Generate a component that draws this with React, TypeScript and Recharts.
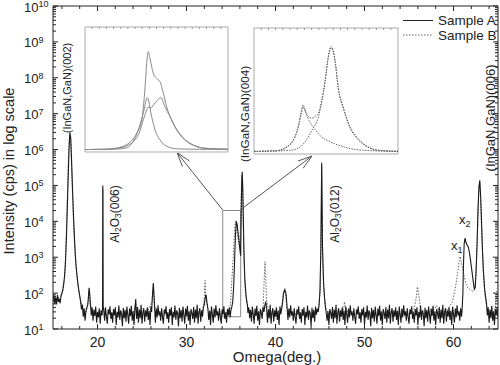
import React from 'react';
import { LineChart, Line, XAxis, YAxis, ReferenceArea } from 'recharts';

const FONT = '"Liberation Sans", Arial, Helvetica, sans-serif';

// ---- main scan: [omega (deg.), intensity (cps)] ----
const sampleA: [number, number][] = [
  [15.0, 62], [15.1, 88], [15.2, 50], [15.3, 76], [15.4, 48], [15.5, 90], [15.6, 57], [15.7, 70], [15.8, 52], [15.9, 82],
  [16.0, 98], [16.1, 125], [16.2, 180], [16.3, 300], [16.4, 700], [16.5, 3000], [16.6, 2e4], [16.7, 1.5e5], [16.8, 1e6], [16.9, 3e6],
  [17.0, 2e6], [17.1, 4e5], [17.2, 7e4], [17.3, 1.5e4], [17.4, 4000], [17.5, 1200], [17.6, 550], [17.7, 300], [17.8, 180], [17.9, 120],
  [18.0, 85], [18.1, 58], [18.2, 35], [18.3, 48], [18.4, 22], [18.5, 38], [18.6, 17], [18.7, 31], [18.8, 40], [18.9, 46],
  [19.0, 90], [19.05, 140], [19.1, 115], [19.2, 55], [19.3, 24], [19.4, 40], [19.5, 17], [19.6, 35], [19.7, 23], [19.8, 42],
  [19.9, 15], [20.0, 30], [20.1, 21], [20.2, 38], [20.3, 14], [20.4, 33], [20.5, 24], [20.57, 38], [20.6, 1e5], [20.63, 42],
  [20.7, 34], [20.8, 17], [20.9, 40], [21.0, 22], [21.1, 14], [21.2, 35], [21.3, 26], [21.4, 43], [21.5, 19], [21.6, 29],
  [21.7, 15], [21.8, 36], [21.9, 24], [22.0, 40], [22.1, 13], [22.2, 30], [22.3, 21], [22.4, 45], [22.5, 18], [22.6, 33],
  [22.7, 27], [22.8, 12], [22.9, 39], [23.0, 20], [23.1, 34], [23.2, 16], [23.3, 42], [23.4, 25], [23.5, 14], [23.6, 37],
  [23.7, 23], [23.8, 44], [23.9, 17], [24.0, 31], [24.1, 13], [24.2, 36], [24.3, 68], [24.35, 28], [24.4, 19], [24.5, 41],
  [24.6, 15], [24.7, 35], [24.8, 20], [24.9, 47], [25.0, 14], [25.1, 29], [25.2, 38], [25.3, 16], [25.4, 33], [25.5, 22],
  [25.6, 40], [25.7, 18], [25.8, 32], [25.9, 13], [26.0, 42], [26.08, 30], [26.15, 70], [26.27, 190], [26.35, 90], [26.42, 40],
  [26.5, 15], [26.6, 37], [26.7, 21], [26.8, 46], [26.9, 24], [27.0, 31], [27.1, 17], [27.2, 38], [27.3, 22], [27.4, 14],
  [27.5, 35], [27.6, 26], [27.7, 43], [27.8, 19], [27.9, 29], [28.0, 15], [28.1, 36], [28.2, 24], [28.3, 40], [28.4, 13],
  [28.5, 30], [28.6, 21], [28.7, 45], [28.8, 18], [28.9, 33], [29.0, 27], [29.1, 12], [29.2, 39], [29.3, 20], [29.4, 34],
  [29.5, 16], [29.6, 42], [29.7, 25], [29.8, 14], [29.9, 37], [30.0, 23], [30.1, 44], [30.2, 17], [30.3, 31], [30.4, 13],
  [30.5, 36], [30.6, 28], [30.7, 19], [30.8, 41], [30.9, 15], [31.0, 35], [31.1, 20], [31.2, 47], [31.3, 14], [31.4, 29],
  [31.5, 38], [31.6, 16], [31.7, 33], [31.8, 22], [31.9, 40], [32.0, 48], [32.1, 75], [32.2, 90], [32.3, 55], [32.4, 38],
  [32.5, 18], [32.6, 32], [32.7, 13], [32.8, 42], [32.9, 26], [33.0, 15], [33.1, 37], [33.2, 21], [33.3, 46], [33.4, 24],
  [33.5, 31], [33.6, 17], [33.7, 38], [33.8, 22], [33.9, 14], [34.0, 35], [34.1, 26], [34.2, 43], [34.3, 19], [34.4, 29],
  [34.5, 15], [34.6, 36], [34.7, 24], [34.8, 40], [34.9, 21], [35.0, 34], [35.1, 42], [35.2, 60], [35.3, 150], [35.4, 800],
  [35.5, 4000], [35.6, 1e4], [35.7, 8000], [35.8, 4500], [35.9, 2800], [36.0, 1600], [36.08, 1100], [36.15, 2e4], [36.2, 1.2e5], [36.26, 2.4e5],
  [36.32, 9e4], [36.38, 1.5e4], [36.45, 1500], [36.55, 250], [36.7, 80], [36.85, 45], [36.9, 28], [37.0, 39], [37.1, 20], [37.2, 34],
  [37.3, 16], [37.4, 42], [37.5, 25], [37.6, 14], [37.7, 37], [37.8, 23], [37.9, 44], [38.0, 17], [38.1, 31], [38.2, 13],
  [38.3, 36], [38.4, 28], [38.5, 19], [38.6, 41], [38.7, 30], [38.8, 44], [38.9, 58], [39.0, 38], [39.1, 15], [39.2, 35],
  [39.3, 20], [39.4, 47], [39.5, 14], [39.6, 29], [39.7, 38], [39.8, 16], [39.9, 33], [40.0, 22], [40.1, 40], [40.2, 18],
  [40.3, 32], [40.4, 13], [40.5, 42], [40.6, 26], [40.7, 38], [40.8, 55], [40.9, 100], [41.05, 125], [41.2, 90], [41.3, 40],
  [41.4, 18], [41.5, 37], [41.6, 21], [41.7, 46], [41.8, 24], [41.9, 31], [42.0, 17], [42.1, 38], [42.2, 22], [42.3, 14],
  [42.4, 35], [42.5, 26], [42.6, 43], [42.7, 19], [42.8, 29], [42.9, 15], [43.0, 36], [43.1, 24], [43.2, 40], [43.3, 13],
  [43.4, 30], [43.5, 21], [43.6, 45], [43.7, 18], [43.8, 33], [43.9, 27], [44.0, 12], [44.1, 39], [44.2, 20], [44.3, 34],
  [44.4, 16], [44.5, 42], [44.6, 25], [44.7, 37], [44.8, 30], [44.9, 48], [45.0, 120], [45.1, 2000], [45.19, 4.3e5], [45.28, 2000],
  [45.4, 200], [45.5, 80], [45.6, 45], [45.7, 28], [45.8, 17], [45.9, 31], [46.0, 13], [46.1, 36], [46.2, 28], [46.3, 19],
  [46.4, 41], [46.5, 15], [46.6, 35], [46.7, 20], [46.8, 47], [46.9, 14], [47.0, 29], [47.1, 38], [47.2, 16], [47.3, 33],
  [47.4, 22], [47.5, 40], [47.6, 18], [47.7, 32], [47.8, 13], [47.9, 42], [48.0, 26], [48.1, 15], [48.2, 37], [48.3, 21],
  [48.4, 46], [48.5, 24], [48.6, 31], [48.7, 17], [48.8, 38], [48.9, 22], [49.0, 14], [49.1, 35], [49.2, 26], [49.3, 43],
  [49.4, 19], [49.5, 29], [49.6, 15], [49.7, 36], [49.8, 24], [49.9, 40], [50.0, 13], [50.1, 30], [50.2, 21], [50.3, 45],
  [50.4, 18], [50.5, 33], [50.6, 27], [50.7, 12], [50.8, 39], [50.9, 20], [51.0, 34], [51.1, 16], [51.2, 42], [51.3, 25],
  [51.4, 14], [51.5, 37], [51.6, 23], [51.7, 44], [51.8, 17], [51.9, 31], [52.0, 13], [52.1, 36], [52.2, 28], [52.3, 19],
  [52.4, 41], [52.5, 15], [52.6, 35], [52.7, 20], [52.8, 47], [52.9, 14], [53.0, 29], [53.1, 38], [53.2, 16], [53.3, 33],
  [53.4, 22], [53.5, 40], [53.6, 18], [53.7, 32], [53.8, 13], [53.9, 42], [54.0, 26], [54.1, 15], [54.2, 37], [54.3, 21],
  [54.4, 46], [54.5, 24], [54.6, 31], [54.7, 17], [54.8, 38], [54.9, 22], [55.0, 14], [55.1, 35], [55.2, 26], [55.3, 43],
  [55.4, 19], [55.5, 29], [55.6, 15], [55.7, 36], [55.8, 24], [55.9, 40], [56.0, 13], [56.1, 30], [56.2, 21], [56.3, 45],
  [56.4, 18], [56.5, 33], [56.6, 27], [56.7, 12], [56.8, 39], [56.9, 20], [57.0, 34], [57.1, 16], [57.2, 42], [57.3, 25],
  [57.4, 14], [57.5, 37], [57.6, 23], [57.7, 44], [57.8, 17], [57.9, 31], [58.0, 13], [58.1, 36], [58.2, 28], [58.3, 19],
  [58.4, 41], [58.5, 15], [58.6, 35], [58.7, 20], [58.8, 47], [58.9, 14], [59.0, 29], [59.1, 38], [59.2, 16], [59.3, 33],
  [59.4, 22], [59.5, 40], [59.6, 18], [59.7, 32], [59.8, 13], [59.9, 42], [60.0, 26], [60.1, 15], [60.2, 37], [60.3, 21],
  [60.4, 46], [60.5, 24], [60.6, 31], [60.7, 17], [60.8, 38], [60.9, 22], [60.95, 30], [61.05, 90], [61.12, 600], [61.2, 2400],
  [61.3, 3400], [61.4, 2600], [61.55, 2100], [61.67, 1900], [61.8, 1300], [61.92, 800], [62.05, 450], [62.2, 230], [62.35, 125], [62.45, 150],
  [62.55, 500], [62.65, 2500], [62.75, 2e4], [62.85, 8e4], [62.95, 1.4e5], [63.05, 5e4], [63.17, 7000], [63.26, 1500], [63.35, 450], [63.5, 130],
  [63.6, 80], [63.7, 55], [63.8, 24], [63.9, 40], [64.0, 15], [64.1, 35], [64.2, 20], [64.3, 44], [64.4, 17], [64.5, 31],
  [64.6, 13], [64.7, 36], [64.8, 24], [64.9, 40], [65.0, 21],
];

const sampleB: [number, number][] = [
  [15.0, 58], [15.5, 72], [15.9, 85], [16.1, 110], [16.3, 260], [16.4, 900], [16.5, 5000], [16.6, 4e4], [16.7, 3e5], [16.8, 1.5e6],
  [16.88, 2.5e6], [17.0, 1.3e6], [17.1, 3e5], [17.2, 5e4], [17.3, 1e4], [17.4, 3000], [17.6, 500], [17.8, 170], [18.0, 80], [18.3, 40],
  [18.6, 25], [18.9, 45], [19.0, 70], [19.05, 110], [19.15, 50], [19.5, 25], [20.0, 28], [20.5, 25], [20.57, 35], [20.6, 8e4],
  [20.63, 40], [21.0, 25], [22.0, 28], [23.0, 22], [24.0, 27], [24.3, 50], [24.6, 24], [25.5, 26], [26.15, 60], [26.27, 150],
  [26.4, 45], [27.0, 25], [28.0, 23], [29.0, 27], [30.0, 22], [31.0, 26], [31.8, 30], [32.0, 70], [32.08, 225], [32.16, 80],
  [32.4, 35], [33.0, 24], [34.0, 26], [34.8, 30], [34.9, 40], [35.0, 80], [35.1, 250], [35.2, 600], [35.3, 1800], [35.4, 6000],
  [35.5, 1e4], [35.6, 8000], [35.7, 5000], [35.8, 3200], [35.9, 2200], [36.0, 3000], [36.1, 1.5e4], [36.18, 1e5], [36.24, 2e5], [36.3, 8e4],
  [36.38, 8000], [36.5, 500], [36.6, 120], [36.8, 50], [37.2, 28], [38.0, 25], [38.6, 35], [38.72, 200], [38.82, 760], [38.9, 300],
  [39.0, 60], [39.3, 28], [40.0, 25], [40.7, 40], [40.85, 90], [41.0, 120], [41.15, 80], [41.3, 35], [42.0, 26], [43.0, 24],
  [44.0, 27], [44.8, 32], [45.0, 100], [45.1, 1500], [45.19, 3.5e5], [45.28, 1500], [45.4, 150], [45.6, 40], [46.0, 25], [47.0, 24],
  [47.6, 30], [47.75, 57], [47.85, 35], [48.5, 25], [49.5, 27], [50.5, 24], [51.5, 26], [52.5, 25], [53.5, 28], [54.5, 24],
  [55.5, 30], [55.8, 70], [55.95, 150], [56.1, 90], [56.3, 35], [57.0, 28], [57.8, 35], [58.1, 45], [58.4, 30], [59.0, 30],
  [59.5, 40], [59.9, 60], [60.2, 130], [60.45, 350], [60.65, 800], [60.73, 1050], [60.85, 800], [61.0, 500], [61.2, 300], [61.4, 180],
  [61.6, 140], [61.8, 130], [62.0, 120], [62.2, 110], [62.4, 130], [62.55, 400], [62.7, 5000], [62.85, 1e5], [62.95, 1.3e5], [63.05, 4e4],
  [63.2, 3000], [63.35, 400], [63.5, 110], [63.7, 45], [64.0, 28], [64.5, 30], [64.7, 40], [64.85, 100], [65.0, 200],
];

// axis ticks
const xLabelTicks = [20, 30, 40, 50, 60];
const xTicks = [16, 18, 20, 22, 24, 26, 28, 30, 32, 34, 36, 38, 40, 42, 44, 46, 48, 50, 52, 54, 56, 58, 60, 62, 64];
const yDecades = [1e1, 1e2, 1e3, 1e4, 1e5, 1e6, 1e7, 1e8, 1e9, 1e10];
const yMinorSteps = [2, 3, 4, 5, 6, 7, 8, 9];
const omegaDomain: [number, number] = [15, 65];
const cpsDomain: [number, number] = [10, 1e10];

// zoomed region (omega range, intensity range)
const zoomOmega: [number, number] = [34.07, 36.09];
const zoomCps: [number, number] = [22, 2e4];

// ---- insets: [position across the zoomed window (%), intensity (a.u.)] ----
const insetATotal: [number, number][] = [
  [0, 0], [14, 0.2], [21, 1], [29.2, 4], [36.2, 13.5], [39.7, 24], [42, 51], [43.1, 70], [44.3, 80], [45.5, 74],
  [47.8, 62], [50.1, 58], [52.4, 55.5], [54.8, 46], [57.1, 35], [60.6, 24], [64.1, 16], [68.7, 9], [75.7, 3.5], [83.9, 1], [100, 0.3],
];
const insetAPeak1: [number, number][] = [
  [0, 0], [21, 0.3], [29.2, 1.4], [33.8, 6.8], [37.3, 16], [40.8, 30], [43.6, 42.4], [46.6, 27], [49, 16], [52.4, 8],
  [57.1, 2.7], [64.1, 0.6], [80, 0.2], [100, 0.1],
];
const insetAPeak2: [number, number][] = [
  [0, 0], [14, 0.2], [21, 0.8], [29.2, 3], [37.3, 12], [42, 28.5], [44.3, 34.7], [45.9, 33.9], [49, 38], [53.1, 42.4],
  [55.9, 35], [59.4, 27], [64.1, 16.5], [68.7, 9.5], [75.7, 3.8], [83.9, 1.1], [100, 0.3],
];
const insetBTotal: [number, number][] = [
  [0, 0.4], [3, 0.1], [6, 0.6], [9, 0.2], [12, 0.8], [15, 0.3], [18, 1.2], [20.1, 2], [22.9, 4], [27.1, 9],
  [30.6, 20], [33.1, 34], [34, 37.7], [36.6, 30], [40.1, 27], [42.4, 28.5], [44.7, 31], [47, 41], [49.3, 57], [51.6, 77],
  [53.5, 85], [54.9, 82], [56.3, 74], [58.5, 52], [62, 36], [66.7, 20], [71.3, 12], [77.1, 5.3], [85.2, 1.2], [90, 0.6],
  [96.5, 0.2], [100, 0.3],
];
const insetBPeak1: [number, number][] = [
  [0, 0], [16.7, 0.9], [20.1, 1.9], [22.9, 3.8], [27.1, 8.5], [30.6, 19], [33.1, 32], [34, 36], [36.1, 31], [38.2, 25],
  [41, 20], [45.8, 13], [52.8, 8], [61.8, 4], [73.6, 1.2], [100, 0.1],
];
const insetBPeak2: [number, number][] = [
  [0, 0], [25, 1], [31.9, 3.5], [36.1, 9], [40.1, 17], [44.7, 28], [47, 40], [49.3, 56], [51.6, 76], [53.5, 84],
  [54.9, 81], [56.3, 73], [58.5, 51], [62, 35], [66.7, 19], [71.3, 11], [77.1, 5], [85.2, 1.2], [100, 0.2],
];
const insetTicks = [5, 10, 15, 20, 25, 30, 35, 40, 45, 50, 55, 60, 65, 70, 75, 80, 85, 90, 95];

const AXIS = '#222';

const yTicks: number[] = [];
yDecades.forEach((d, i) => {
  yTicks.push(d);
  if (i < yDecades.length - 1) yMinorSteps.forEach((m) => yTicks.push(d * m));
});

const isDecade = (v: number) => {
  const e = Math.round(Math.log10(v));
  return Math.abs(v - Math.pow(10, e)) < 1e-6 * v;
};

const BottomTick = (p: any) => {
  const v = p.payload.value;
  const major = xLabelTicks.includes(v);
  return (
    <g>
      <line x1={p.x} x2={p.x} y1={p.y} y2={p.y - (major ? 5 : 3)} stroke={AXIS} />
      {major && (
        <text x={p.x} y={p.y + 17.5} textAnchor="middle" fontSize={14} fill="#222" fontFamily={FONT}>{v}</text>
      )}
    </g>
  );
};
const TopTick = (p: any) => {
  const major = xLabelTicks.includes(p.payload.value);
  return <line x1={p.x} x2={p.x} y1={p.y} y2={p.y + (major ? 5 : 3)} stroke={AXIS} />;
};
const LeftTick = (p: any) => {
  const v = p.payload.value;
  const major = isDecade(v);
  const exp = Math.round(Math.log10(v));
  return (
    <g>
      <line x1={p.x} x2={p.x + (major ? 5 : 3)} y1={p.y} y2={p.y} stroke={AXIS} />
      {major && (
        <text x={p.x - 29} y={p.y + 5.5} fontSize={13} fill="#222" fontFamily={FONT}>
          10<tspan dy={-4.5} fontSize={9}>{exp}</tspan>
        </text>
      )}
    </g>
  );
};
const RightTick = (p: any) => {
  const major = isDecade(p.payload.value);
  return <line x1={p.x} x2={p.x - (major ? 5 : 3)} y1={p.y} y2={p.y} stroke={AXIS} />;
};
const InsetTick = (p: any) => <line x1={p.x} x2={p.x} y1={p.y} y2={p.y + 2} stroke="#999" />;

const VLabel = ({ x, y, size, children }: any) => (
  <text
    transform={`translate(${x},${y}) rotate(-90)`}
    textAnchor="middle"
    dominantBaseline="central"
    fontSize={size}
    fill="#222"
    fontFamily={FONT}
  >
    {children}
  </text>
);

const Arrow = ({ from, to }: { from: [number, number]; to: [number, number] }) => {
  const [x0, y0] = from;
  const [x1, y1] = to;
  const a = Math.atan2(y0 - y1, x0 - x1);
  const L = 15;
  const s = 0.3;
  return (
    <g stroke="#555" strokeWidth={1} fill="none">
      <line x1={x0} y1={y0} x2={x1} y2={y1} />
      <line x1={x1} y1={y1} x2={x1 + L * Math.cos(a + s)} y2={y1 + L * Math.sin(a + s)} />
      <line x1={x1} y1={y1} x2={x1 + L * Math.cos(a - s)} y2={y1 + L * Math.sin(a - s)} />
    </g>
  );
};

const toPts = (arr: [number, number][]) => arr.map(([pos, val]) => ({ pos, val }));

const Inset = ({ left, top, width, height, series, dotted }: any) => (
  <div style={{ position: 'absolute', left, top, width, height, background: '#fff' }}>
    <LineChart width={width} height={height} margin={{ top: 1, right: 1, bottom: 1, left: 1 }}>
      <XAxis
        xAxisId="x" type="number" dataKey="pos" domain={[0, 100]} allowDataOverflow
        orientation="top" mirror height={1} ticks={insetTicks} interval={0}
        tickSize={0} tickMargin={0} tickLine={false} axisLine={false} tick={InsetTick}
      />
      <YAxis yAxisId="y" type="number" domain={[-2, 100]} allowDataOverflow hide />
      <ReferenceArea xAxisId="x" yAxisId="y" x1={0} x2={100} y1={-2} y2={100} fill="none" stroke="#aaa" ifOverflow="visible" />
      {series.map((s: [number, number][], i: number) => (
        <Line
          key={i} xAxisId="x" yAxisId="y" data={toPts(s)} dataKey="val" type="monotone"
          stroke={dotted ? '#666' : '#8a8a8a'} strokeWidth={1}
          strokeDasharray={dotted ? '1.5 1.2' : undefined}
          dot={false} isAnimationActive={false}
        />
      ))}
    </LineChart>
  </div>
);

export default function App() {
  const dataA = sampleA.map(([omega, cps]) => ({ omega, cps }));
  const dataB = sampleB.map(([omega, cps]) => ({ omega, cps }));
  return (
    <div style={{ position: 'absolute', left: 0, top: 0, width: 500, height: 365, background: '#fff', fontFamily: FONT }}>
      <LineChart width={500} height={365} margin={{ top: 6, right: 2, bottom: 0, left: 0 }}>
        <XAxis
          xAxisId="b" type="number" dataKey="omega" domain={omegaDomain} allowDataOverflow
          ticks={xTicks} interval={0} tickSize={0} tickMargin={0} tickLine={false} axisLine={false}
          height={36} tick={BottomTick}
        />
        <XAxis
          xAxisId="t" orientation="top" mirror type="number" dataKey="omega" domain={omegaDomain} allowDataOverflow
          ticks={xTicks} interval={0} tickSize={0} tickMargin={0} tickLine={false} axisLine={false}
          height={1} tick={TopTick}
        />
        <YAxis
          yAxisId="l" type="number" scale="log" domain={cpsDomain} allowDataOverflow
          ticks={yTicks} interval={0} width={53} tickSize={0} tickMargin={0} tickLine={false} axisLine={false}
          tick={LeftTick}
        />
        <YAxis
          yAxisId="r" orientation="right" mirror type="number" scale="log" domain={cpsDomain} allowDataOverflow
          ticks={yTicks} interval={0} width={1} tickSize={0} tickMargin={0} tickLine={false} axisLine={false}
          tick={RightTick}
        />
        <ReferenceArea
          xAxisId="b" yAxisId="l" x1={zoomOmega[0]} x2={zoomOmega[1]} y1={zoomCps[0]} y2={zoomCps[1]}
          fill="none" stroke="#888" strokeWidth={1} ifOverflow="visible"
        />
        {/* invisible copy so the mirrored top / right axes have a series bound to them */}
        <Line
          xAxisId="t" yAxisId="r" data={dataA} dataKey="cps" stroke="none" strokeWidth={0}
          dot={false} activeDot={false} isAnimationActive={false} legendType="none"
        />
        <Line
          xAxisId="b" yAxisId="l" data={dataB} dataKey="cps" type="linear" stroke="#666" strokeWidth={1}
          strokeDasharray="1.5 1.5" dot={false} isAnimationActive={false}
        />
        <Line
          xAxisId="b" yAxisId="l" data={dataA} dataKey="cps" type="linear" stroke="#1a1a1a" strokeWidth={1.1}
          dot={false} isAnimationActive={false}
        />
        <ReferenceArea
          xAxisId="b" yAxisId="l" x1={omegaDomain[0]} x2={omegaDomain[1]} y1={cpsDomain[0]} y2={cpsDomain[1]}
          fill="none" stroke={AXIS} strokeWidth={1} ifOverflow="visible"
        />
      </LineChart>

      <svg width={500} height={365} style={{ position: 'absolute', left: 0, top: 0, pointerEvents: 'none' }}>
        <text transform="translate(14,171) rotate(-90)" textAnchor="middle" fontSize={14.5} fill="#222" fontFamily={FONT}>
          Intensity (cps) in log scale
        </text>
        <text x={277} y={361.5} textAnchor="middle" fontSize={15} fill="#222" fontFamily={FONT}>Omega(deg.)</text>

        <line x1={403} x2={433} y1={20.5} y2={20.5} stroke="#222" strokeWidth={1} />
        <text x={438} y={25} fontSize={13.5} fill="#222" fontFamily={FONT}>Sample A</text>
        <line x1={403} x2={433} y1={35} y2={35} stroke="#666" strokeWidth={1} strokeDasharray="1.5 1.5" />
        <text x={438} y={39.5} fontSize={13.5} fill="#222" fontFamily={FONT}>Sample B</text>

        <VLabel x={67} y={88} size={11}>(InGaN,GaN)(002)</VLabel>
        <VLabel x={244} y={114} size={11.7}>(InGaN,GaN)(004)</VLabel>
        <VLabel x={490} y={118} size={13}>(InGaN,GaN)(006)</VLabel>
        <VLabel x={115} y={214} size={12}>
          Al<tspan dy={3} fontSize={8.5}>2</tspan><tspan dy={-3}>O</tspan><tspan dy={3} fontSize={8.5}>3</tspan><tspan dy={-3}>(006)</tspan>
        </VLabel>
        <VLabel x={335} y={214} size={12}>
          Al<tspan dy={3} fontSize={8.5}>2</tspan><tspan dy={-3}>O</tspan><tspan dy={3} fontSize={8.5}>3</tspan><tspan dy={-3}>(012)</tspan>
        </VLabel>
        <text x={459} y={224} fontSize={13} fill="#222" fontFamily={FONT}>x<tspan dy={3} fontSize={9}>2</tspan></text>
        <text x={451} y={250} fontSize={13} fill="#222" fontFamily={FONT}>x<tspan dy={3} fontSize={9}>1</tspan></text>

        <Arrow from={[222.7, 210]} to={[177, 152.5]} />
        <Arrow from={[241.5, 209]} to={[312, 156]} />
      </svg>

      <Inset left={84} top={26} width={145} height={127} series={[insetATotal, insetAPeak1, insetAPeak2]} />
      <Inset left={253} top={27} width={146} height={128} series={[insetBTotal, insetBPeak1, insetBPeak2]} dotted />
    </div>
  );
}
